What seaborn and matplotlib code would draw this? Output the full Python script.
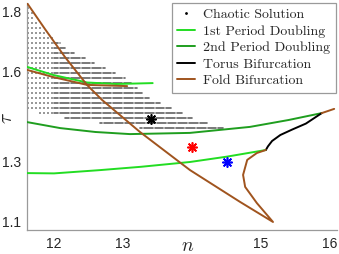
import numpy as np
import pandas as pd
import matplotlib
matplotlib.use("Agg")
import matplotlib.pyplot as plt
import seaborn as sns
from matplotlib.lines import Line2D

# ---------------- data ----------------
fold_main_n = [11.609, 11.870, 12.159, 12.478, 12.696, 13.246, 13.971, 14.696, 15.174,
               14.94, 14.77, 14.74, 14.80, 14.94, 15.07]
fold_main_tau = [1.830, 1.743, 1.650, 1.557, 1.507, 1.400, 1.273, 1.167, 1.100,
                 1.163, 1.217, 1.257, 1.307, 1.330, 1.340]
fold_upper_n = [11.61, 11.99, 12.48, 13.06]
fold_upper_tau = [1.607, 1.583, 1.557, 1.553]
fold_right_n = [15.88, 16.06]
fold_right_tau = [1.463, 1.477]

pd1_upper_n = [11.61, 11.99, 12.48, 12.90, 13.43]
pd1_upper_tau = [1.617, 1.590, 1.565, 1.560, 1.563]
pd1_lower_n = [11.61, 12.00, 12.67, 13.26, 13.97, 14.51, 15.07]
pd1_lower_tau = [1.263, 1.262, 1.273, 1.284, 1.300, 1.318, 1.340]

pd2_n = [11.61, 12.09, 12.60, 13.10, 13.97, 14.84, 15.40, 15.88]
pd2_tau = [1.433, 1.413, 1.400, 1.393, 1.397, 1.417, 1.440, 1.463]

torus_n = [15.07, 15.10, 15.16, 15.28, 15.45, 15.65, 15.88]
torus_tau = [1.340, 1.352, 1.370, 1.390, 1.408, 1.428, 1.463]

# chaotic-solution sweep rows: tau level, left and right extent in n
chaos_tau = [1.813, 1.797, 1.780, 1.763, 1.747, 1.730, 1.713, 1.697, 1.680, 1.663,
             1.647, 1.630, 1.613, 1.597, 1.580, 1.563, 1.547, 1.530, 1.513, 1.497,
             1.480, 1.463, 1.447, 1.430, 1.413]
chaos_n_right = [11.65, 11.70, 11.72, 11.77, 11.83, 11.88, 11.97, 12.09, 12.17, 12.30,
                 12.45, 12.59, 12.74, 12.88, 13.03, 13.13, 13.20, 13.28, 13.39, 13.54,
                 13.71, 13.87, 14.01, 14.23, 14.45]
chaos_n_left = [11.62] * 20 + [11.62, 11.80, 12.16, 12.67, 13.25]
sparse_step = 0.058   # coarse sweep in n on the left part
dense_step = 0.016    # fine sweep in n
dense_from = 12.0

star_n = [13.41, 14.00, 14.51]
star_tau = [1.443, 1.350, 1.300]
star_colors = ["black", "red", "blue"]

xticks = [12, 13, 15, 16]
yticks = [1.1, 1.3, 1.6, 1.8]

legend_labels = ["Chaotic Solution", "1st Period Doubling", "2nd Period Doubling",
                 "Torus Bifurcation", "Fold Bifurcation"]

# ---------------- styling ----------------
c_pd1 = "#22dd22"
c_pd2 = "#1f9e1f"
c_fold = "#a0541e"
c_torus = "black"

sns.set_theme(style="white")
plt.rcParams["font.family"] = ["Liberation Sans", "DejaVu Sans"]
plt.rcParams["mathtext.fontset"] = "cm"

fig = plt.figure(figsize=(3.39, 2.54), dpi=100)
ax = fig.add_axes([27 / 339, 24 / 254, 310 / 339, 227 / 254])

# chaotic dots
sp_n, sp_t, de_n, de_t = [], [], [], []
for t, nl, nr in zip(chaos_tau, chaos_n_left, chaos_n_right):
    if nl < dense_from:
        xs = np.arange(nl, min(nr, dense_from) + 1e-9, sparse_step)
        sp_n += list(xs); sp_t += [t] * len(xs)
    start = max(nl, dense_from)
    if nr > start:
        xs = np.arange(start, nr + 1e-9, dense_step)
        de_n += list(xs); de_t += [t] * len(xs)
sparse_df = pd.DataFrame({"n": sp_n, "tau": sp_t})
dense_df = pd.DataFrame({"n": de_n, "tau": de_t})
sns.scatterplot(data=sparse_df, x="n", y="tau", ax=ax, color="black", alpha=0.4,
                s=0.8, linewidth=0, marker="s", legend=False, zorder=1)
sns.scatterplot(data=dense_df, x="n", y="tau", ax=ax, color="black", alpha=0.3,
                s=0.6, linewidth=0, marker="s", legend=False, zorder=1)

lw = 1.4
def curve(n, t, color):
    sns.lineplot(x=n, y=t, sort=False, estimator=None, color=color, lw=lw, ax=ax,
                 legend=False, zorder=3)

curve(pd1_upper_n, pd1_upper_tau, c_pd1)
curve(pd1_lower_n, pd1_lower_tau, c_pd1)
curve(pd2_n, pd2_tau, c_pd2)
curve(torus_n, torus_tau, c_torus)
curve(fold_main_n, fold_main_tau, c_fold)
curve(fold_upper_n, fold_upper_tau, c_fold)
curve(fold_right_n, fold_right_tau, c_fold)

for n, t, c in zip(star_n, star_tau, star_colors):
    sns.scatterplot(x=[n], y=[t], ax=ax, marker=(8, 2, 0), s=45, color=c,
                    edgecolor=c, linewidth=1.2, legend=False, zorder=4)

ax.set_xlim(11.609, 16.101)
ax.set_ylim(1.0733, 1.83)
ax.set_xticks(xticks)
ax.set_xticklabels([str(v) for v in xticks])
ax.set_yticks(yticks)
ax.set_yticklabels([f"{v:.1f}" for v in yticks])
ax.set_xlabel("")
ax.set_ylabel("")
for s in ["top", "right"]:
    ax.spines[s].set_visible(False)
for s in ["left", "bottom"]:
    ax.spines[s].set_color("#9a9a9a")
    ax.spines[s].set_linewidth(0.9)
ax.tick_params(axis="both", direction="in", length=2.5, width=0.8, color="#9a9a9a",
               labelsize=10, labelcolor="#262626")
ax.tick_params(axis="x", pad=5)
ax.tick_params(axis="y", pad=4)

ax.text((188 - 27) / 310, (230 - 251) / 227, r"$n$", fontsize=14, ha="center",
        va="baseline", transform=ax.transAxes, color="#262626")
ax.text((8 - 27) / 310, (230 - 118) / 227, r"$\tau$", fontsize=14, ha="center",
        va="center", rotation=90, transform=ax.transAxes, color="#262626")

handles = [
    Line2D([], [], ls="none", marker=".", markersize=2, color="black"),
    Line2D([], [], color=c_pd1, lw=lw),
    Line2D([], [], color=c_pd2, lw=lw),
    Line2D([], [], color=c_torus, lw=lw),
    Line2D([], [], color=c_fold, lw=lw),
]
leg = fig.legend(handles, legend_labels, loc="upper right",
                 bbox_to_anchor=(336 / 339, 1 - 3 / 254), borderaxespad=0,
                 prop={"family": "cmr10", "size": 10}, frameon=True, fancybox=False,
                 handlelength=1.3, handletextpad=0.6, labelspacing=0.27,
                 borderpad=0.4)
leg.get_frame().set_edgecolor("#9a9a9a")
leg.get_frame().set_linewidth(0.9)
leg.get_frame().set_facecolor("white")
leg.get_frame().set_alpha(1)

fig.savefig("out.png", dpi=100)
